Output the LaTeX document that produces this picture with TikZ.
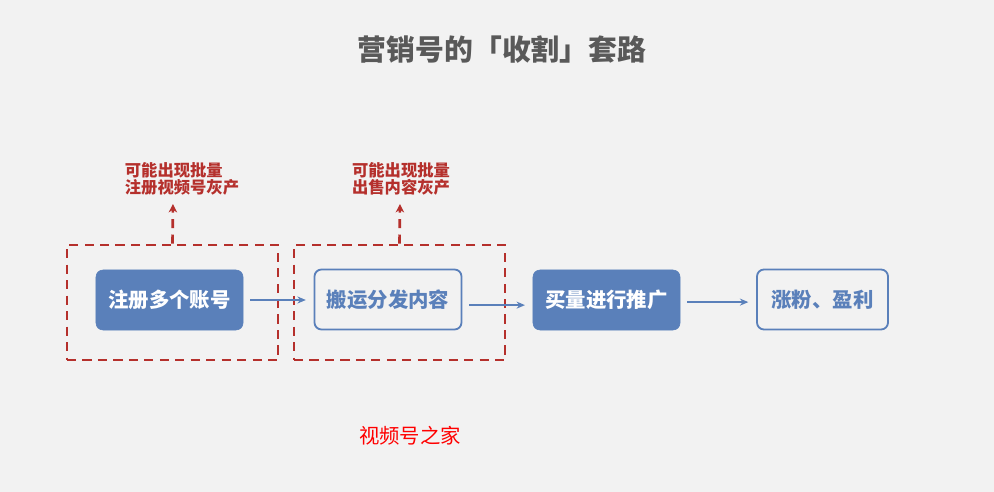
\documentclass[tikz,border=0pt]{standalone}
\usepackage{fontspec}
\newfontfamily\cjk{Noto Sans CJK SC}
\usetikzlibrary{arrows.meta}

\definecolor{bgcol}{HTML}{F2F2F2}
\definecolor{boxblue}{HTML}{5A80BA}
\definecolor{dashred}{HTML}{B5302C}
\definecolor{titlegray}{HTML}{595959}

\begin{document}
\begin{tikzpicture}[x=0.025cm,y=-0.025cm,
    solidbox/.style={rectangle,rounded corners=5pt,fill=boxblue,draw=boxblue,
      text=white,font=\cjk\bfseries\fontsize{14.5}{16}\selectfont,
      minimum width=3.675cm,minimum height=1.5cm},
    openbox/.style={rectangle,rounded corners=5pt,fill=bgcol,draw=boxblue,line width=1.3pt,
      text=boxblue,font=\cjk\bfseries\fontsize{14.5}{16}\selectfont,
      minimum width=3.675cm,minimum height=1.5cm},
    groupbox/.style={rectangle,draw=dashred,line width=1.9pt,dash pattern=on 6.5pt off 4.5pt,
      minimum width=5.275cm,minimum height=2.875cm,inner sep=0pt},
    warn/.style={text=dashred,font=\cjk\bfseries\fontsize{11.6}{12}\selectfont,
      align=left,inner sep=0pt},
    flow/.style={draw=boxblue,line width=1pt,shorten <=5pt,shorten >=5.5pt,
      -{Stealth[length=6pt,width=5pt]}},
    upline/.style={draw=dashred,line width=1.9pt,dash pattern=on 6.5pt off 4.5pt,
      -{Stealth[length=6pt,width=6pt]}}]

  \fill[bgcol] (0,0) rectangle (994,492);
  \useasboundingbox (0,0) rectangle (994,492);

  \node[text=titlegray,font=\cjk\bfseries\fontsize{20.5}{24}\selectfont] (title) at (502,50) {营销号的「收割」套路};

  % dashed groups
  \node[groupbox] (grp1) at (172.5,302.5) {};
  \node[groupbox] (grp2) at (399.5,302.5) {};

  % steps
  \node[solidbox] (acc)  at (169.5,300) {注册多个账号};
  \node[openbox]  (cont) at (388,299.5) {搬运分发内容};
  \node[solidbox] (buy)  at (606.5,300) {买量进行推广};
  \node[openbox,minimum width=3.275cm] (gain) at (822.5,299.5) {涨粉、盈利};

  \draw[flow] (acc.east) -- (acc.east -| cont.west);
  \draw[flow] ([yshift=-4pt]cont.east) -- ([yshift=-4pt]cont.east -| buy.west);
  \draw[flow] ([yshift=-1.5pt]buy.east) -- ([yshift=-1.5pt]buy.east -| gain.west);

  % warnings
  \node[warn] (lab1) at (182,179) {可能出现批量\\注册视频号灰产};
  \node[warn] (lab2) at (401,179) {可能出现批量\\出售内容灰产};
  \coordinate (tip1) at (173,204);
  \coordinate (tip2) at (400,204);
  \draw[upline] (grp1.north) -- (tip1);
  \draw[upline] (grp2.north) -- (tip2);

  \node[text=red,font=\cjk\fontsize{14.5}{16}\selectfont] (brand) at (410,436) {视频号之家};

\end{tikzpicture}
\end{document}
